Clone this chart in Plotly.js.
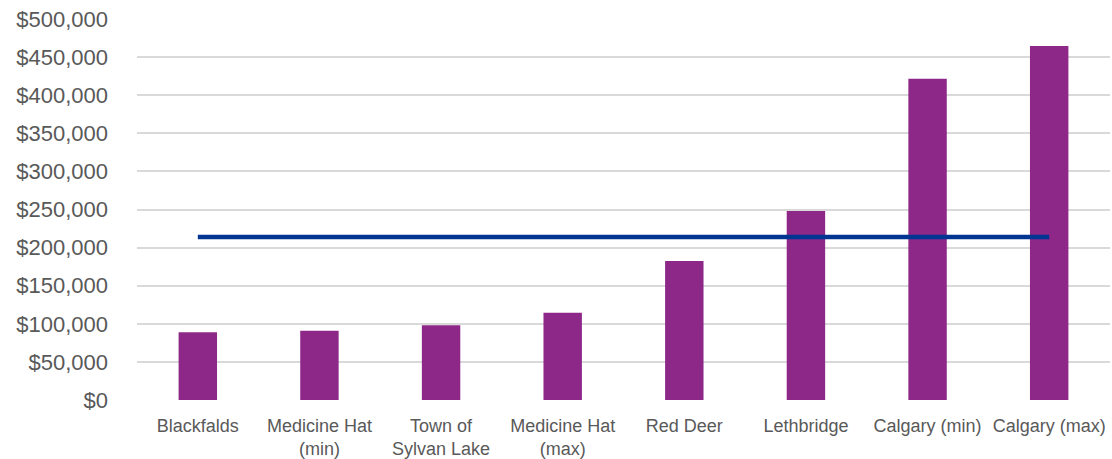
<!DOCTYPE html>
<html>
<head>
<meta charset="utf-8">
<script src="https://cdn.plot.ly/plotly-3.0.1.min.js"></script>
<style>
  html, body { margin: 0; padding: 0; background: #ffffff; }
  #chart { width: 1112px; height: 459px; }
</style>
</head>
<body>
<div id="chart"></div>
<script>
const categories = [
  "Blackfalds",
  "Medicine Hat<br>(min)",
  "Town of<br>Sylvan Lake",
  "Medicine Hat<br>(max)",
  "Red Deer",
  "Lethbridge",
  "Calgary (min)",
  "Calgary (max)"
];
const barValues = [89000, 91000, 98000, 114500, 182500, 248000, 421500, 464500];
const averageValues = [214000, 214000, 214000, 214000, 214000, 214000, 214000, 214000];
const yTickValues = [0, 50000, 100000, 150000, 200000, 250000, 300000, 350000, 400000, 450000, 500000];
const yTickLabels = ["$0", "$50,000", "$100,000", "$150,000", "$200,000", "$250,000", "$300,000", "$350,000", "$400,000", "$450,000", "$500,000"];

const traces = [
  {
    type: "bar",
    x: categories,
    y: barValues,
    marker: { color: "#8D2889" },
    hoverinfo: "x+y",
    showlegend: false
  },
  {
    type: "scatter",
    mode: "lines",
    x: categories,
    y: averageValues,
    line: { color: "#003592", width: 4.5 },
    hoverinfo: "y",
    showlegend: false
  }
];

const layout = {
  width: 1112,
  height: 459,
  margin: { l: 137, r: 2, t: 19, b: 59, pad: 0 },
  paper_bgcolor: "#ffffff",
  plot_bgcolor: "#ffffff",
  bargap: 0.684,
  showlegend: false,
  font: { family: "Liberation Sans, Arial, sans-serif", color: "#595959" },
  xaxis: {
    type: "category",
    showgrid: false,
    zeroline: false,
    showline: false,
    ticks: "",
    tickfont: { size: 18, color: "#595959" },
    ticklabelstandoff: 13,
    automargin: false
  },
  yaxis: {
    range: [0, 500000],
    tickmode: "array",
    tickvals: yTickValues,
    ticktext: yTickLabels,
    showgrid: true,
    gridcolor: "#D9D9D9",
    gridwidth: 2,
    zeroline: false,
    showline: false,
    ticks: "",
    tickfont: { size: 22, color: "#595959" },
    ticklabelstandoff: 28,
    automargin: false
  }
};

Plotly.newPlot("chart", traces, layout, { displayModeBar: false, staticPlot: true });
</script>
</body>
</html>
